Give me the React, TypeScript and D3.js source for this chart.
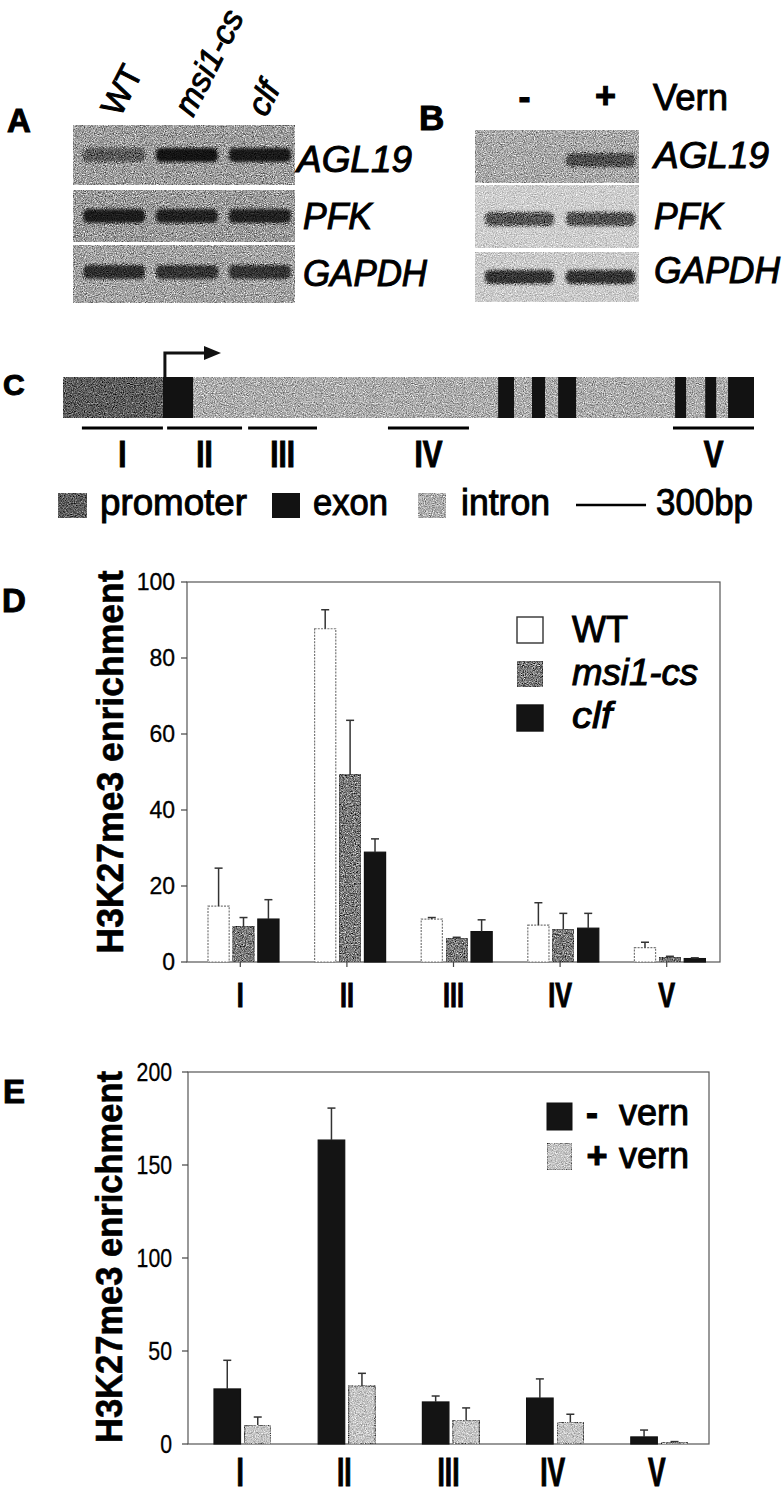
import React from 'react';
import * as d3 from 'd3';

const W = 783;
const H = 1493;
const FONT = "'Liberation Sans', Arial, Helvetica, sans-serif";

// RT-PCR gels (band strength 0..1 per gene row, per lane)
const gelGenes = ['AGL19', 'PFK', 'GAPDH'];
const gelALanes = ['WT', 'msi1-cs', 'clf'];
const gelABands = [
  [0.4, 1, 0.95],
  [0.92, 0.88, 0.88],
  [0.78, 0.74, 0.74],
];
const gelBLanes = ['-', '+'];
const gelBBands = [
  [0, 0.55],
  [0.6, 0.62],
  [0.8, 0.8],
];

// AGL19 gene model, in bp
const geneLength = 2960;
const promoterBp = [0, 428];
const exonsBp = [
  [428, 557], [1864, 1932], [2009, 2065], [2121, 2198],
  [2622, 2669], [2751, 2798], [2849, 2960],
];
const ampliconsBp = [[81, 428], [446, 767], [793, 1088], [1392, 1739], [2613, 2960]];
const scaleBarBp = 300;

// ChIP enrichment
const regions = ['I', 'II', 'III', 'IV', 'V'];
const dSeries = ['WT', 'msi1-cs', 'clf'];
const dWT = [14.7, 87.7, 11.3, 9.7, 3.8];
const dWTErr = [10, 5, 0.4, 5.9, 1.4];
const dMsi = [9.3, 49.3, 6.2, 8.6, 1.2];
const dMsiErr = [2.4, 14.3, 0.3, 4.2, 0.3];
const dClf = [11.3, 28.9, 8.0, 8.9, 0.9];
const dClfErr = [5.1, 3.5, 3.1, 3.9, 0.2];

const eSeries = ['- vern', '+ vern'];
const eMinus = [29.6, 163.4, 22.6, 24.7, 3.8];
const eMinusErr = [15.4, 17.2, 3.2, 10.3, 3.7];
const ePlus = [10.2, 31.2, 12.9, 11.8, 1.0];
const ePlusErr = [4.3, 6.8, 6.5, 4.2, 0.3];

const txt = { fontFamily: FONT, fill: '#000', stroke: '#000', strokeWidth: 1 } as const;

const Gel = ({ x0, x1, rows, lanes, bands }) => {
  const lx = d3.scaleBand().domain(lanes).range([x0 + 10, x1 - 4]).paddingInner(0.15);
  return (
    <g>
      {rows.map((r, i) => (
        <g key={i} filter="url(#grain)">
          <rect x={x0} y={r.y} width={x1 - x0} height={r.h} fill={r.bg} />
          {lanes.map((l, j) =>
            bands[i][j] > 0 ? (
              <rect key={l} x={lx(l)} y={r.band - 7} width={lx.bandwidth()} height={14} rx={5}
                fill="#111" opacity={0.15 + 0.8 * bands[i][j]} filter="url(#soft)" />
            ) : null
          )}
        </g>
      ))}
    </g>
  );
};

export default function App() {
  // panel A/B
  const rowsA = [
    { y: 125, h: 60, bg: '#9c9c9c', band: 155 },
    { y: 190, h: 52, bg: '#9a9a9a', band: 216 },
    { y: 245, h: 58, bg: '#a2a2a2', band: 272 },
  ];
  const rowsB = [
    { y: 130, h: 53, bg: '#a8a8a8', band: 160 },
    { y: 185, h: 63, bg: '#cdcdcd', band: 219 },
    { y: 252, h: 50, bg: '#cacaca', band: 277 },
  ];
  const laneA = d3.scaleBand().domain(gelALanes).range([83, 291]).paddingInner(0.15);
  const laneB = d3.scaleBand().domain(gelBLanes).range([485, 635]).paddingInner(0.15);
  const aLabelBase = [172, 229, 286];
  const bLabelBase = [168, 229, 283];
  const aLabelW = [115, 69, 124];

  // panel C
  const gx = d3.scaleLinear().domain([0, geneLength]).range([63, 754]);
  const barY = 377, barH = 41;

  // panel D
  const dy = d3.scaleLinear().domain([0, 100]).range([962, 582]);
  const dx = d3.scaleBand().domain(regions).range([187, 720]);
  const dxi = d3.scaleBand().domain(dSeries).range([21, 92]).paddingInner(0.15);
  const dVals = [dWT, dMsi, dClf];
  const dErrs = [dWTErr, dMsiErr, dClfErr];

  // panel E
  const ey = d3.scaleLinear().domain([0, 200]).range([1444, 1072]);
  const ex = d3.scaleBand().domain(regions).range([188, 709]);
  const exi = d3.scaleBand().domain(eSeries).range([26, 83]).paddingInner(0.13);
  const eVals = [eMinus, ePlus];
  const eErrs = [eMinusErr, ePlusErr];

  const dFill = (s) =>
    s === 'WT' ? { fill: '#fff', stroke: '#777', strokeDasharray: '2 1.2' } :
    s === 'msi1-cs' ? { fill: '#7a7a7a', stroke: '#555', filter: 'url(#grain)' } :
    { fill: '#141414', stroke: '#111' };
  const eFill = (s) =>
    s === '- vern' ? { fill: '#141414', stroke: '#111' } :
    { fill: '#c4c4c4', stroke: '#666', filter: 'url(#grain)' };

  const errBar = (x, yTop, yErr, key) => (
    <g key={key} stroke="#333" strokeWidth={1.5}>
      <line x1={x} x2={x} y1={yTop} y2={yErr} />
      <line x1={x - 4} x2={x + 4} y1={yErr} y2={yErr} />
    </g>
  );

  return (
    <svg width={W} height={H} viewBox={`0 0 ${W} ${H}`}
      style={{ position: 'absolute', left: 0, top: 0, background: '#fff' }}>
      <defs>
        <filter id="grain" x="0" y="0" width="1" height="1" colorInterpolationFilters="sRGB">
          <feTurbulence type="fractalNoise" baseFrequency="0.9" numOctaves="2" seed="4" result="noise" />
          <feColorMatrix in="noise" type="matrix"
            values="0.8 0.8 0.8 0 -0.7  0.8 0.8 0.8 0 -0.7  0.8 0.8 0.8 0 -0.7  0 0 0 0 1" result="gn" />
          <feBlend in="gn" in2="SourceGraphic" mode="overlay" result="bl" />
          <feComposite in="bl" in2="SourceGraphic" operator="in" />
        </filter>
        <filter id="soft" x="-0.2" y="-0.5" width="1.4" height="2">
          <feGaussianBlur stdDeviation="1.6" />
        </filter>
      </defs>

      {/* A */}
      <text {...txt} x={7} y={132} fontSize={33} fontWeight="bold">A</text>
      {gelALanes.map((l) => (
        <text key={l} {...txt} fontSize={33} fontStyle={l === 'WT' ? 'normal' : 'italic'}
          transform={`translate(${laneA(l) + laneA.bandwidth() / 2 + 6},118) rotate(-63)`}>{l}</text>
      ))}
      <Gel x0={73} x1={295} rows={rowsA} lanes={gelALanes} bands={gelABands} />
      {gelGenes.map((g, i) => (
        <text key={g} {...txt} x={i === 0 ? 297 : 303} y={aLabelBase[i]} fontSize={36} fontStyle="italic"
          textLength={aLabelW[i]} lengthAdjust="spacingAndGlyphs">{g}</text>
      ))}

      {/* B */}
      <text {...txt} x={419} y={130} fontSize={35} fontWeight="bold">B</text>
      {gelBLanes.map((l) => (
        <text key={l} {...txt} x={laneB(l) + laneB.bandwidth() / 2 + 5} y={l === '-' ? 109 : 108}
          fontSize={36} fontWeight="bold" textAnchor="middle">{l}</text>
      ))}
      <text {...txt} x={653} y={110} fontSize={36} textLength={75} lengthAdjust="spacingAndGlyphs">Vern</text>
      <Gel x0={475} x1={639} rows={rowsB} lanes={gelBLanes} bands={gelBBands} />
      {gelGenes.map((g, i) => (
        <text key={g} {...txt} x={654} y={bLabelBase[i]} fontSize={36} fontStyle="italic"
          textLength={aLabelW[i] + (i === 2 ? 2 : 0)} lengthAdjust="spacingAndGlyphs">{g}</text>
      ))}

      {/* C */}
      <text {...txt} x={3} y={395} fontSize={30} fontWeight="bold">C</text>
      <rect x={gx(promoterBp[1])} y={barY} width={gx(geneLength) - gx(promoterBp[1])} height={barH}
        fill="#acacac" filter="url(#grain)" />
      <rect x={gx(promoterBp[0])} y={barY} width={gx(promoterBp[1]) - gx(promoterBp[0])} height={barH}
        fill="#5c5c5c" filter="url(#grain)" />
      {exonsBp.map((e, i) => (
        <rect key={i} x={gx(e[0])} y={barY} width={gx(e[1]) - gx(e[0])} height={barH} fill="#121212" />
      ))}
      <path d={`M${gx(promoterBp[1]) + 2},${barY} V353 H208`} fill="none" stroke="#111" strokeWidth={3} />
      <path d="M204,346 L221,353 L204,360 Z" fill="#111" />
      {ampliconsBp.map((a, i) => (
        <g key={i}>
          <line x1={gx(a[0])} x2={gx(a[1])} y1={428} y2={428} stroke="#000" strokeWidth={3} />
          <text {...txt} fontSize={37} fontWeight="bold" textAnchor="middle"
            transform={`translate(${(gx(a[0]) + gx(a[1])) / 2},467) scale(0.8,1)`}>{regions[i]}</text>
        </g>
      ))}
      <rect x={58} y={493} width={29} height={25} fill="#5c5c5c" filter="url(#grain)" />
      <text {...txt} x={100} y={515} fontSize={37} textLength={147} lengthAdjust="spacingAndGlyphs">promoter</text>
      <rect x={272} y={493} width={28} height={25} fill="#121212" />
      <text {...txt} x={313} y={515} fontSize={37} textLength={75} lengthAdjust="spacingAndGlyphs">exon</text>
      <rect x={418} y={493} width={28} height={25} fill="#acacac" filter="url(#grain)" />
      <text {...txt} x={461} y={515} fontSize={37} textLength={89} lengthAdjust="spacingAndGlyphs">intron</text>
      <line x1={576} x2={576 + gx(scaleBarBp) - gx(0)} y1={505} y2={505} stroke="#000" strokeWidth={2.5} />
      <text {...txt} x={656} y={515} fontSize={37} textLength={97} lengthAdjust="spacingAndGlyphs">{scaleBarBp}bp</text>

      {/* D */}
      <text {...txt} x={2} y={612} fontSize={33} fontWeight="bold">D</text>
      <text {...txt} strokeWidth={0.6} fontSize={37} fontWeight="bold" textAnchor="middle" textLength={383} lengthAdjust="spacingAndGlyphs"
        transform="translate(123,762) rotate(-90)">H3K27me3 enrichment</text>
      <rect x={187} y={582} width={533} height={380} fill="none" stroke="#555" strokeWidth={1.2} />
      {dy.ticks(5).map((t) => (
        <g key={t}>
          <line x1={181} x2={187} y1={dy(t)} y2={dy(t)} stroke="#444" strokeWidth={1.2} />
          <text {...txt} strokeWidth={0.3} x={175} y={dy(t) + 8} fontSize={23} textAnchor="end">{t}</text>
        </g>
      ))}
      {regions.map((r, i) => (
        <g key={r}>
          <line x1={dx(r) + dx.bandwidth() / 2} x2={dx(r) + dx.bandwidth() / 2} y1={962} y2={967} stroke="#444" strokeWidth={1.2} />
          {dSeries.map((s, k) => {
            const x = dx(r) + dxi(s);
            return (
              <g key={s}>
                <rect x={x} y={dy(dVals[k][i])} width={dxi.bandwidth()} height={dy(0) - dy(dVals[k][i])}
                  strokeWidth={1.2} {...dFill(s)} />
                {errBar(x + dxi.bandwidth() / 2, dy(dVals[k][i]), dy(dVals[k][i] + dErrs[k][i]), 'e')}
              </g>
            );
          })}
          <text {...txt} fontSize={35} fontWeight="bold" textAnchor="middle"
            transform={`translate(${dx(r) + dx.bandwidth() / 2},1007) scale(0.72,1)`}>{r}</text>
        </g>
      ))}
      {dSeries.map((s, k) => (
        <g key={s}>
          <rect x={517} y={617 + k * 44} width={26} height={26} strokeWidth={1.4}
            {...dFill(s)} stroke={s === 'WT' ? '#333' : dFill(s).stroke} strokeDasharray="none" />
          <text {...txt} x={572} y={642 + k * 43} fontSize={36} fontStyle={s === 'WT' ? 'normal' : 'italic'}
            textLength={[56, 126, 40][k]} lengthAdjust="spacingAndGlyphs">{s}</text>
        </g>
      ))}

      {/* E */}
      <text {...txt} x={3} y={1103} fontSize={33} fontWeight="bold">E</text>
      <text {...txt} strokeWidth={0.6} fontSize={37} fontWeight="bold" textAnchor="middle" textLength={372} lengthAdjust="spacingAndGlyphs"
        transform="translate(122,1257) rotate(-90)">H3K27me3 enrichment</text>
      <rect x={188} y={1072} width={521} height={372} fill="none" stroke="#555" strokeWidth={1.2} />
      {ey.ticks(4).map((t) => (
        <g key={t}>
          <line x1={182} x2={188} y1={ey(t)} y2={ey(t)} stroke="#444" strokeWidth={1.2} />
          <text {...txt} strokeWidth={0.3} fontSize={25} textAnchor="end"
            transform={`translate(172,${ey(t) + 9}) scale(0.85,1)`}>{t}</text>
        </g>
      ))}
      {regions.map((r, i) => (
        <g key={r}>
          {eSeries.map((s, k) => {
            const x = ex(r) + exi(s);
            return (
              <g key={s}>
                <rect x={x} y={ey(eVals[k][i])} width={exi.bandwidth()} height={ey(0) - ey(eVals[k][i])}
                  strokeWidth={1.2} {...eFill(s)} />
                {errBar(x + exi.bandwidth() / 2, ey(eVals[k][i]), ey(eVals[k][i] + eErrs[k][i]), 'e')}
              </g>
            );
          })}
          <text {...txt} fontSize={40} fontWeight="bold" textAnchor="middle"
            transform={`translate(${ex(r) + ex.bandwidth() / 2},1486) scale(0.66,1)`}>{r}</text>
        </g>
      ))}
      {eSeries.map((s, k) => (
        <g key={s}>
          <rect x={547} y={1103 + k * 40} width={25} height={27} strokeWidth={1} {...eFill(s)} />
          <text {...txt} x={k === 0 ? 592 : 597} y={1125 + k * 43} fontSize={36} fontWeight="bold" textAnchor="middle">{s[0]}</text>
          <text {...txt} x={619} y={1125 + k * 43} fontSize={36} textLength={70} lengthAdjust="spacingAndGlyphs">vern</text>
        </g>
      ))}
    </svg>
  );
}
